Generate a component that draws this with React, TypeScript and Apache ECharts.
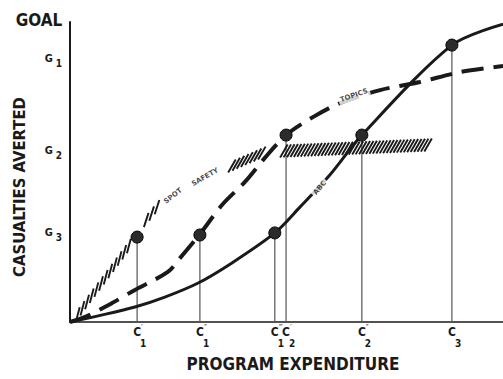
import { useEffect, useRef } from "react";
import * as echarts from "echarts";

// Expenditure levels (x, 0..100) and the attained casualty levels (y, 0..100)
const cValues = [15.5, 30.0, 47.3, 49.9, 67.4, 88.2];
const cPrimes = ["′", "″", "‴", "′", "″", ""];
const cSubs = ["1", "1", "1", "2", "2", "3"];
const pointLevels = [28.3, 29.0, 29.7, 62.3, 62.3, 92.3];

// Goal tick labels on the y axis
const gTickValues = [30, 57.3, 88];
const gSubs = ["3", "2", "1"];

// Curves
const abcCurve = [
  [0, 0], [7, 2.2], [15, 5], [21.9, 8.3], [29.6, 13], [37.4, 19.7], [47.3, 29.7],
  [53.1, 38.3], [60, 49], [67.4, 62.3], [88.2, 92.3], [100, 99.3],
];
const topicsCurve = [
  [0, 0], [3.5, 1.7], [9.7, 6.3], [15, 10.7], [22.6, 16.7], [25.4, 21.3], [30, 29.3],
  [35.1, 39], [40.4, 46.7], [45, 54.7], [49.9, 62.3], [56.1, 68.3], [62.4, 73],
  [71.6, 77.3], [80.8, 80], [90.1, 83.3], [100, 85.3],
];
// Spot safety hatched segments: [x1, y1, x2, y2]
const spotSafety = [
  [1.8, 2.5, 13.6, 25.3],
  [17.6, 34.0, 20.1, 38.3],
  [37.4, 52.0, 44.3, 56.3],
  [49.4, 57.0, 82.7, 59.0],
];
// Curve names
const curveLabels = [
  { text: "SPOT", x: 23.8, y: 42, rotate: 38 },
  { text: "SAFETY", x: 31.2, y: 48.3, rotate: 30 },
  { text: "TOPICS", x: 65.6, y: 75.5, rotate: 19 },
  { text: "ABC", x: 57.7, y: 44.7, rotate: 50 },
];

const INK = "#1a1a1a";
const FONT = "'Liberation Sans Narrow', 'DejaVu Sans Condensed', 'Roboto', sans-serif";

export default function App() {
  const ref = useRef<HTMLDivElement>(null);
  useEffect(() => {
    const chart = echarts.init(ref.current!, null, { renderer: "svg" });
    const option: any = {
      animation: false,
      backgroundColor: "#fff",
      grid: { left: 70, top: 22, width: 433, height: 300 },
      xAxis: [
        {
          type: "value", min: 0, max: 100, position: "bottom",
          axisLine: { lineStyle: { color: INK, width: 1.5 } },
          axisTick: { show: false }, splitLine: { show: false },
          axisLabel: {
            customValues: cValues,
            formatter: () => "C",
            margin: 4,
            fontSize: 12, fontWeight: "bold", fontFamily: FONT, color: INK,
          },
        },
        {
          type: "value", min: 0, max: 100, position: "bottom", gridIndex: 0,
          axisLine: { show: false }, axisTick: { show: false }, splitLine: { show: false },
          axisLabel: {
            customValues: cValues,
            align: "left",
            margin: 1,
            formatter: (v: number) => {
              let i = cValues.indexOf(v);
              if (i < 0) i = 0;
              return `{p|${cPrimes[i] || "\u00a0"}}\n{s|${cSubs[i]}}`;
            },
            rich: {
              p: { fontSize: 8, lineHeight: 10, padding: [0, 0, 0, 4], color: "#444", fontFamily: "DejaVu Sans" },
              s: { fontSize: 10, lineHeight: 21, padding: [0, 0, 0, 3], fontWeight: "bold", color: INK, fontFamily: FONT },
            },
          },
        },
      ],
      yAxis: {
        type: "value", min: 0, max: 100,
        axisLine: { lineStyle: { color: INK, width: 2 } },
        axisTick: { show: false }, splitLine: { show: false },
        axisLabel: {
          customValues: gTickValues,
          margin: 8,
          formatter: (v: number) => {
            let i = gTickValues.indexOf(v);
            if (i < 0) i = 0;
            return `{m|G}{s|${gSubs[i]}}`;
          },
          rich: {
            m: { fontSize: 11, fontWeight: "bold", color: INK, fontFamily: FONT },
            s: { fontSize: 10, fontWeight: "bold", color: INK, fontFamily: FONT, padding: [11, 0, 0, 3] },
          },
        },
      },
      graphic: [
        { type: "text", x: 39, y: 20, style: { text: "GOAL", fontSize: 17, fontWeight: "bold", fontFamily: FONT, fill: INK, align: "center", verticalAlign: "middle" } },
        { type: "text", x: 19, y: 187, rotation: Math.PI / 2, style: { text: "CASUALTIES AVERTED", fontSize: 16.5, fontWeight: "bold", fontFamily: FONT, fill: INK, align: "center", verticalAlign: "middle" } },
        { type: "text", x: 293, y: 364, style: { text: "PROGRAM EXPENDITURE", fontSize: 17, fontWeight: "bold", fontFamily: FONT, fill: INK, align: "center", verticalAlign: "middle" } },
      ],
      series: [
        {
          type: "custom", name: "drops", z: 1,
          data: cValues.map((c, i) => [c, pointLevels[i]]),
          renderItem: (_p: any, api: any) => {
            const a = api.coord([api.value(0), 0]);
            const b = api.coord([api.value(0), api.value(1)]);
            return { type: "line", shape: { x1: a[0], y1: a[1], x2: b[0], y2: b[1] }, style: { stroke: "#555", lineWidth: 1.2 } };
          },
        },
        {
          type: "line", name: "ABC", z: 2, data: abcCurve, smooth: 0.3, showSymbol: false,
          lineStyle: { color: INK, width: 3 },
        },
        {
          type: "line", name: "TOPICS", z: 2, data: topicsCurve, smooth: 0.3, showSymbol: false,
          lineStyle: { color: INK, width: 4, type: [22, 10], cap: "butt" },
        },
        {
          type: "custom", name: "SPOT SAFETY", z: 2,
          data: spotSafety,
          renderItem: (_p: any, api: any) => {
            const p1 = api.coord([api.value(0), api.value(1)]);
            const p2 = api.coord([api.value(2), api.value(3)]);
            const dx = p2[0] - p1[0], dy = p2[1] - p1[1];
            const len = Math.hypot(dx, dy);
            const segAng = Math.atan2(-dy, dx);
            const ang = Math.max((60 * Math.PI) / 180, segAng + (22 * Math.PI) / 180);
            const step = 2.9 / Math.sin(ang - segAng);
            const n = Math.max(3, Math.round(len / step) + 1);
            const half = 7.5;
            const hx = Math.cos(ang) * half, hy = Math.sin(ang) * half;
            const children: any[] = [];
            for (let i = 0; i < n; i++) {
              const t = i / (n - 1);
              const cx = p1[0] + dx * t, cy = p1[1] + dy * t;
              children.push({
                type: "line",
                shape: { x1: cx - hx, y1: cy + hy, x2: cx + hx, y2: cy - hy },
                style: { stroke: INK, lineWidth: 1.9 },
              });
            }
            return { type: "group", children };
          },
        },
        {
          type: "scatter", name: "points", z: 3,
          data: cValues.map((c, i) => [c, pointLevels[i]]),
          symbolSize: 12,
          itemStyle: { color: "#2b2b2b", borderColor: "#000", borderWidth: 1, opacity: 1 },
        },
        {
          type: "scatter", name: "labels", z: 4,
          symbolSize: 0,
          data: curveLabels.map((l) => ({
            value: [l.x, l.y],
            label: {
              show: true, position: "inside", formatter: l.text, rotate: l.rotate,
              fontSize: 7, fontWeight: "bold", fontFamily: "DejaVu Sans", color: INK,
              textBorderWidth: 0, textBorderColor: "transparent",
              backgroundColor: "#fff", padding: [1, 2],
            },
          })),
        },
      ],
    };
    chart.setOption(option);
    return () => chart.dispose();
  }, []);
  return (
    <div
      ref={ref}
      style={{ position: "fixed", left: 0, top: 0, width: 503, height: 379, background: "#fff" }}
    />
  );
}
